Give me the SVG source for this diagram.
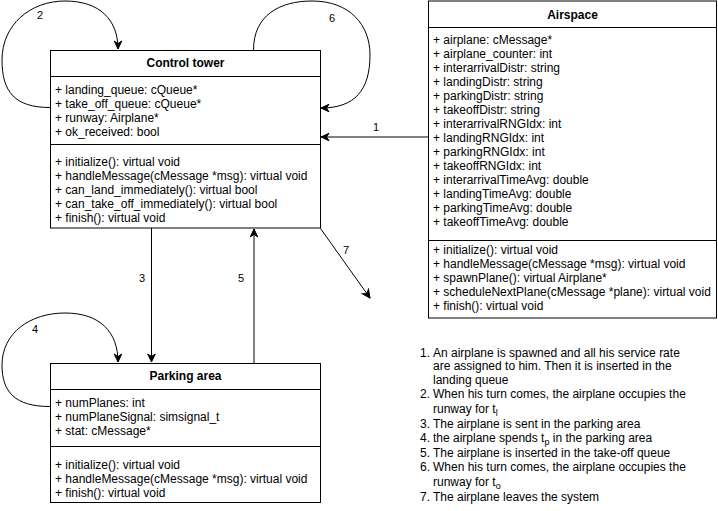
<svg xmlns="http://www.w3.org/2000/svg" width="718" height="511" viewBox="0 0 718 511">
<style>
  text { font-family: "Liberation Sans", Arial, Helvetica, sans-serif; font-size: 12px; fill: #000; }
  .title { font-weight: bold; text-anchor: middle; }
  .box { fill: #fff; stroke: #000; stroke-width: 1; }
  .sep { stroke: #000; stroke-width: 1; fill: none; }
  .edge { fill: none; stroke: #000; stroke-width: 1; marker-end: url(#arrow); }
  .elabel { font-size: 11px; text-anchor: middle; }
  .sub { font-size: 9px; }
</style>
<defs>
  <marker id="arrow" viewBox="-9 -5 10 10" refX="0" refY="0" markerWidth="10" markerHeight="10" orient="auto" markerUnits="userSpaceOnUse">
    <path d="M0,0 L-8,-3.8 L-5.5,0 L-8,3.8 Z" fill="#000" stroke="#000" stroke-width="1"/>
  </marker>
</defs>
<rect width="718" height="511" fill="#fff"/>

<g id="connectors">
  <path class="edge" d="M428,137 L321,137"/>
  <text class="elabel" x="376" y="131">1</text>
  <path class="edge" d="M50,107.5 C15,107.5 2,92 2,60 C2,25 30,1 65,1 C100,1 118,20 118,49"/>
  <text class="elabel" x="40" y="19">2</text>
  <path class="edge" d="M151.5,228 L151.5,362"/>
  <text class="elabel" x="142" y="282">3</text>
  <path class="edge" d="M50,406.5 C15,406.5 2,392 2,365 C2,333 30,313 65,313 C100,313 118,332 118,362"/>
  <text class="elabel" x="35" y="333">4</text>
  <path class="edge" d="M254,363 L254,229"/>
  <text class="elabel" x="241" y="282">5</text>
  <path class="edge" d="M253.5,50 C253.5,15 280,1 312,1 C350,1 370,25 370,55 C370,90 355,108 321,108"/>
  <text class="elabel" x="332" y="22">6</text>
  <path class="edge" d="M320.5,228.5 L370,298"/>
  <text class="elabel" x="346" y="254">7</text>
</g>

<g id="control-tower">
  <rect class="box" x="50.5" y="50.5" width="270" height="177.5"/>
  <line class="sep" x1="50.5" y1="76.5" x2="320.5" y2="76.5"/>
  <line class="sep" x1="50.5" y1="144.5" x2="320.5" y2="144.5"/>
  <text class="title" x="185.5" y="67">Control tower</text>
  <text x="55" y="94">+ landing_queue: cQueue*</text>
  <text x="55" y="108">+ take_off_queue: cQueue*</text>
  <text x="55" y="122">+ runway: Airplane*</text>
  <text x="55" y="136">+ ok_received: bool</text>
  <text x="55" y="166">+ initialize(): virtual void</text>
  <text x="55" y="180">+ handleMessage(cMessage *msg): virtual void</text>
  <text x="55" y="194">+ can_land_immediately(): virtual bool</text>
  <text x="55" y="208">+ can_take_off_immediately(): virtual bool</text>
  <text x="55" y="222">+ finish(): virtual void</text>
</g>

<g id="airspace">
  <rect class="box" x="428.5" y="1" width="288" height="317"/>
  <line class="sep" x1="428.5" y1="27.5" x2="716.5" y2="27.5"/>
  <line class="sep" x1="428.5" y1="240.5" x2="716.5" y2="240.5"/>
  <text class="title" x="572.5" y="19">Airspace</text>
  <text x="433" y="44">+ airplane: cMessage*</text>
  <text x="433" y="58">+ airplane_counter: int</text>
  <text x="433" y="72">+ interarrivalDistr: string</text>
  <text x="433" y="86">+ landingDistr: string</text>
  <text x="433" y="100">+ parkingDistr: string</text>
  <text x="433" y="114">+ takeoffDistr: string</text>
  <text x="433" y="128">+ interarrivalRNGIdx: int</text>
  <text x="433" y="142">+ landingRNGIdx: int</text>
  <text x="433" y="156">+ parkingRNGIdx: int</text>
  <text x="433" y="170">+ takeoffRNGIdx: int</text>
  <text x="433" y="184">+ interarrivalTimeAvg: double</text>
  <text x="433" y="198">+ landingTimeAvg: double</text>
  <text x="433" y="212">+ parkingTimeAvg: double</text>
  <text x="433" y="226">+ takeoffTimeAvg: double</text>
  <text x="433" y="254">+ initialize(): virtual void</text>
  <text x="433" y="268">+ handleMessage(cMessage *msg): virtual void</text>
  <text x="433" y="282">+ spawnPlane(): virtual Airplane*</text>
  <text x="433" y="296">+ scheduleNextPlane(cMessage *plane): virtual void</text>
  <text x="433" y="310">+ finish(): virtual void</text>
</g>

<g id="parking-area">
  <rect class="box" x="50.5" y="363.5" width="270" height="139"/>
  <line class="sep" x1="50.5" y1="389.5" x2="320.5" y2="389.5"/>
  <line class="sep" x1="50.5" y1="446.5" x2="320.5" y2="446.5"/>
  <text class="title" x="185.5" y="380">Parking area</text>
  <text x="55" y="407">+ numPlanes: int</text>
  <text x="55" y="421">+ numPlaneSignal: simsignal_t</text>
  <text x="55" y="435">+ stat: cMessage*</text>
  <text x="55" y="469">+ initialize(): virtual void</text>
  <text x="55" y="483">+ handleMessage(cMessage *msg): virtual void</text>
  <text x="55" y="497">+ finish(): virtual void</text>
</g>

<g id="legend">
  <text x="420" y="356.5">1.</text>
  <text x="433" y="356.5">An airplane is spawned and all his service rate</text>
  <text x="433" y="370">are assigned to him. Then it is inserted in the</text>
  <text x="433" y="384">landing queue</text>
  <text x="420" y="398">2.</text>
  <text x="433" y="398">When his turn comes, the airplane occupies the</text>
  <text x="433" y="412.5">runway for t<tspan class="sub" dy="3">l</tspan></text>
  <text x="420" y="427.5">3.</text>
  <text x="433" y="427.5">The airplane is sent in the parking area</text>
  <text x="420" y="441.5">4.</text>
  <text x="433" y="441.5">the airplane spends t<tspan class="sub" dy="3">p</tspan><tspan dy="-3"> in the parking area</tspan></text>
  <text x="420" y="456.5">5.</text>
  <text x="433" y="456.5">The airplane is inserted in the take-off queue</text>
  <text x="420" y="471">6.</text>
  <text x="433" y="471">When his turn comes, the airplane occupies the</text>
  <text x="433" y="485.5">runway for t<tspan class="sub" dy="3">o</tspan></text>
  <text x="420" y="500.5">7.</text>
  <text x="433" y="500.5">The airplane leaves the system</text>
</g>
</svg>
